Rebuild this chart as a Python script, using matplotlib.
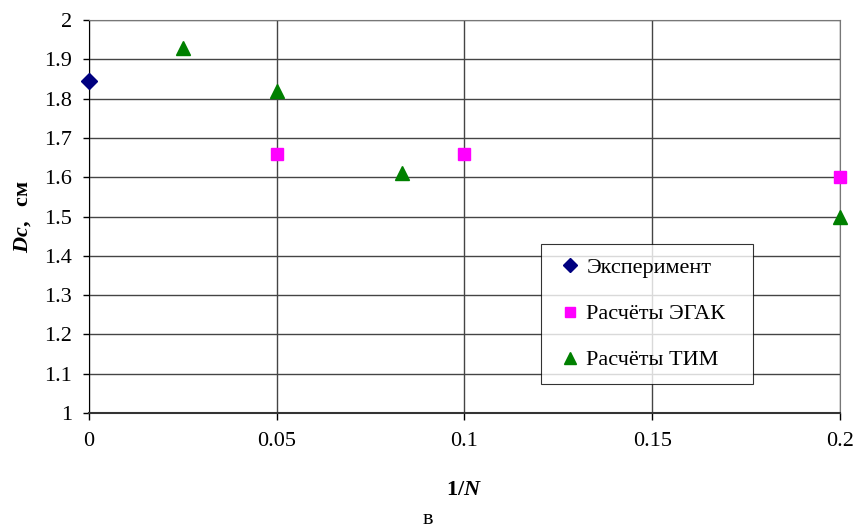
import matplotlib.pyplot as plt
import numpy as np

# data
exp_x = [0.0]
exp_y = [1.845]

egak_x = [0.05, 0.1, 0.2]
egak_y = [1.66, 1.66, 1.60]

tim_x = [0.025, 0.05, 1 / 12, 0.2]
tim_y = [1.93, 1.82, 1.61, 1.50]

x_ticks = [0, 0.05, 0.1, 0.15, 0.2]
x_ticklabels = ['0', '0.05', '0.1', '0.15', '0.2']
y_ticks = np.round(np.arange(1.0, 2.01, 0.1), 1)
y_ticklabels = ['1', '1.1', '1.2', '1.3', '1.4', '1.5', '1.6', '1.7', '1.8', '1.9', '2']

plt.rcParams['font.family'] = ['Liberation Serif', 'DejaVu Serif']
plt.rcParams['mathtext.fontset'] = 'custom'
plt.rcParams['mathtext.rm'] = 'Liberation Serif'
plt.rcParams['mathtext.it'] = 'Liberation Serif:italic:bold'
plt.rcParams['mathtext.bf'] = 'Liberation Serif:bold'

fig = plt.figure(figsize=(8.54, 5.24), dpi=100)
ax = fig.add_axes([0.1042, 0.2118, 0.8794, 0.75])

ax.plot(exp_x, exp_y, linestyle='none', marker='D', markersize=8,
        color='#000080', label='Эксперимент', clip_on=False, zorder=5)
ax.plot(egak_x, egak_y, linestyle='none', marker='s', markersize=8,
        color='#ff00ff', label='Расчёты ЭГАК', clip_on=False, zorder=5)
ax.plot(tim_x, tim_y, linestyle='none', marker='^', markersize=9.5,
        color='#008000', label='Расчёты ТИМ', clip_on=False, zorder=5)

ax.set_xlim(0, 0.2)
ax.set_ylim(1, 2)
ax.set_xticks(x_ticks)
ax.set_xticklabels(x_ticklabels)
ax.set_yticks(y_ticks)
ax.set_yticklabels(y_ticklabels)
ax.tick_params(axis='both', labelsize=16, color='black', width=1)
ax.tick_params(axis='x', length=5, pad=9)
ax.tick_params(axis='y', length=4, pad=8)

ax.grid(True, color='#444444', linewidth=1)
ax.set_axisbelow(True)
for side in ['top', 'right']:
    ax.spines[side].set_color('#777777')
ax.spines['left'].set_color('black')
ax.spines['bottom'].set_color('#333333')
ax.spines['bottom'].set_linewidth(1.5)

ax.set_xlabel(r'$\mathbf{1/}\mathit{N}$', fontsize=16, labelpad=21)
ax.set_ylabel(r'$\mathit{Dc}\mathbf{,\ \ }$' + 'см', fontsize=16, fontweight='bold', labelpad=8)

leg = ax.legend(loc='upper left', bbox_to_anchor=(0.6014, 0.4293, 0.2824, 0.0),
                mode='expand', borderaxespad=0, fontsize=16, frameon=True,
                fancybox=False, handlelength=1.4, handletextpad=0.05,
                borderpad=0.6, labelspacing=1.15, markerscale=0.9)
leg.get_frame().set_edgecolor('black')
leg.get_frame().set_linewidth(0.8)

fig.text(0.501, 0.027, 'в', fontsize=16, ha='center', va='top')

plt.savefig('out.png', dpi=100)
plt.close()
